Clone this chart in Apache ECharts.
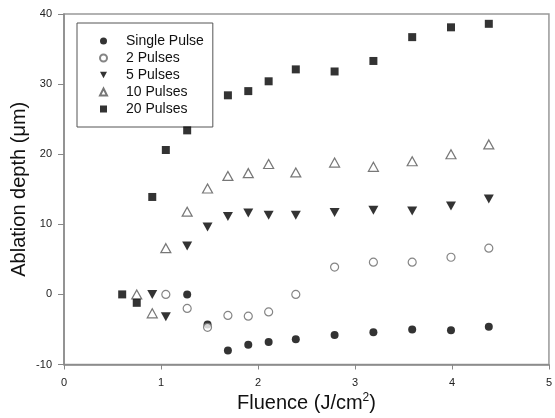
<!DOCTYPE html>
<html><head><meta charset="utf-8">
<script src="https://cdn.jsdelivr.net/npm/echarts@6/dist/echarts.min.js"></script>
<style>html,body{margin:0;padding:0;background:#fff}#c{width:555px;height:418px}</style>
</head><body><div id="c"></div>
<script>
var fluence = [0.6, 0.75, 0.91, 1.05, 1.27, 1.48, 1.69, 1.9, 2.11, 2.39, 2.79, 3.19, 3.59, 3.99, 4.38];
var singlePulse = [null, null, null, null, 0, -4.3, -8.0, -7.2, -6.8, -6.4, -5.8, -5.4, -5.0, -5.1, -4.6];
var pulses2 = [null, null, null, 0, -2.0, -4.7, -3.0, -3.1, -2.5, 0, 3.9, 4.6, 4.6, 5.3, 6.6];
var pulses5 = [null, null, 0, -3.2, 6.9, 9.6, 11.1, 11.6, 11.3, 11.3, 11.7, 12.0, 11.9, 12.6, 13.6];
var pulses10 = [null, 0, -2.7, 6.6, 11.8, 15.1, 16.9, 17.3, 18.6, 17.4, 18.8, 18.2, 19.0, 20.0, 21.4];
var pulses20 = [0, -1.2, 13.9, 20.6, 23.4, null, 28.4, 29.0, 30.4, 32.1, 31.8, 33.3, 36.7, 38.1, 38.6];
var seriesNames = ['Single Pulse', '2 Pulses', '5 Pulses', '10 Pulses', '20 Pulses'];
var xTicks = [0, 1, 2, 3, 4, 5];
var yTicks = [-10, 0, 10, 20, 30, 40];

function pts(ys){ var o=[]; for(var i=0;i<fluence.length;i++){ if(ys[i]!==null) o.push([fluence[i], ys[i]]); } return o; }
var FONT = 'Arial, "Liberation Sans", sans-serif';
var DOWN_TRI = 'path://M0,0 L10,0 L5,9 Z';
var styles = [
  {data: singlePulse, symbol:'circle', size:8, item:{color:'#000'}},
  {data: pulses2, symbol:'circle', size:8, item:{color:'#fff', borderColor:'#666', borderWidth:1.2}},
  {data: pulses5, symbol:DOWN_TRI, size:[10,9], item:{color:'#000'}},
  {data: pulses10, symbol:'triangle', size:[10,9], item:{color:'#fff', borderColor:'#555', borderWidth:1.2}},
  {data: pulses20, symbol:'rect', size:8, item:{color:'#000'}}
];
var series = styles.map(function(s, i){
  return {type:'scatter', name: seriesNames[i], data: pts(s.data), symbol: s.symbol, symbolSize: s.size, itemStyle: s.item, z: 2 + i};
});
var chart = echarts.init(document.getElementById('c'));
chart.setOption({
  animation:false,
  backgroundColor:'#fff',
  grid:{left:64, right:3, top:14, bottom:52, show:true, borderColor:'#999', borderWidth:1.5},
  legend:{
    orient:'vertical', left:77, top:23, data: seriesNames,
    backgroundColor:'#fff', borderColor:'#555', borderWidth:1,
    padding:[11,9,11,22], itemWidth:7, itemHeight:7, itemGap:3,
    textStyle:{fontFamily:FONT, fontSize:14, color:'#111', lineHeight:14, padding:[0,0,0,14]}
  },
  xAxis:{
    type:'value', min:xTicks[0], max:xTicks[xTicks.length-1], interval:1,
    name:'Fluence (J/cm{sup|2})', nameLocation:'middle', nameGap:27, nameMoveOverlap:false,
    nameTextStyle:{fontFamily:FONT, fontSize:20, color:'#111', rich:{sup:{fontFamily:FONT, fontSize:12, verticalAlign:'top', padding:[0,0,11,0], color:'#111'}}},
    axisLine:{onZero:false, lineStyle:{color:'#888', width:1.5}},
    axisTick:{show:true, inside:false, length:5, lineStyle:{color:'#888'}},
    axisLabel:{fontFamily:FONT, fontSize:11, color:'#222', margin:13},
    splitLine:{show:false}
  },
  yAxis:{
    type:'value', min:yTicks[0], max:yTicks[yTicks.length-1], interval:10,
    name:'Ablation depth (\u03bcm)', nameLocation:'middle', nameGap:35, nameMoveOverlap:false,
    nameTextStyle:{fontFamily:FONT, fontSize:20, color:'#111'},
    axisLine:{onZero:false, lineStyle:{color:'#888', width:1.5}},
    axisTick:{show:true, inside:false, length:6, lineStyle:{color:'#888'}},
    axisLabel:{fontFamily:FONT, fontSize:11, color:'#222', margin:12},
    splitLine:{show:false}
  },
  series: series
});
</script></body></html>
